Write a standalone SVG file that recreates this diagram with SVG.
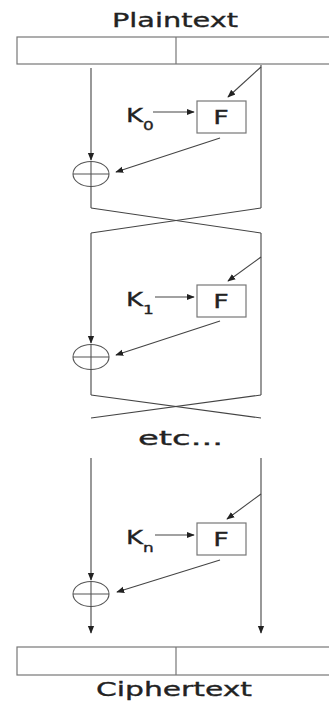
<svg xmlns="http://www.w3.org/2000/svg" width="329" height="703" viewBox="0 0 329 703">
<style>
.ln{stroke:#444;stroke-width:1.1;fill:none}
.bx{stroke:#777;stroke-width:1.2;fill:#fff}
.ar{stroke:#444;stroke-width:1.1;fill:none;marker-end:url(#ah)}
.t{font-family:"DejaVu Sans",Verdana,sans-serif;fill:#222;stroke:#222;stroke-width:0.35;font-size:20px}
.xor{stroke:#555;stroke-width:1.1;fill:none}
</style>
<defs>
<marker id="ah" viewBox="0 0 10 10" refX="9" refY="5" markerWidth="8" markerHeight="8" markerUnits="userSpaceOnUse" orient="auto">
<path d="M0,1 L10,5 L0,9 Z" fill="#222"/>
</marker>
</defs>
<rect width="329" height="703" fill="#fff"/>

<g id="plaintext">
<rect class="bx" x="17" y="37" width="313" height="27"/>
<line class="bx" x1="176" y1="37" x2="176" y2="64"/>
<text class="t" x="112" y="27" textLength="126" lengthAdjust="spacingAndGlyphs">Plaintext</text>
</g>

<g id="ciphertext">
<rect class="bx" x="17" y="647" width="313" height="28"/>
<line class="bx" x1="176" y1="647" x2="176" y2="675"/>
<text class="t" x="96" y="696" textLength="156" lengthAdjust="spacingAndGlyphs">Ciphertext</text>
</g>

<g id="F0">
<rect class="bx" x="197" y="101" width="49" height="32"/>
<text class="t" transform="translate(221,124) scale(1.35,1)" text-anchor="middle" font-size="21">F</text>
</g>
<g id="K0">
<text class="t" transform="translate(126,122) scale(1.3,1)" font-size="21">K<tspan font-size="13" dy="8">0</tspan></text>
</g>
<g id="X0">
<ellipse class="xor" cx="91" cy="174" rx="18" ry="12.5"/>
<line class="xor" x1="73" y1="174" x2="109" y2="174"/>
<line class="xor" x1="91" y1="161.5" x2="91" y2="186.5"/>
</g>

<g id="F1">
<rect class="bx" x="197" y="285" width="49" height="32"/>
<text class="t" transform="translate(221,308) scale(1.35,1)" text-anchor="middle" font-size="21">F</text>
</g>
<g id="K1">
<text class="t" transform="translate(126,306) scale(1.3,1)" font-size="21">K<tspan font-size="13" dy="8">1</tspan></text>
</g>
<g id="X1">
<ellipse class="xor" cx="91" cy="357" rx="18" ry="12.5"/>
<line class="xor" x1="73" y1="357" x2="109" y2="357"/>
<line class="xor" x1="91" y1="344.5" x2="91" y2="369.5"/>
</g>

<g id="etc">
<text class="t" x="138" y="445" textLength="85" lengthAdjust="spacingAndGlyphs">etc...</text>
</g>

<g id="Fn">
<rect class="bx" x="197" y="523" width="49" height="32"/>
<text class="t" transform="translate(221,546) scale(1.35,1)" text-anchor="middle" font-size="21">F</text>
</g>
<g id="Kn">
<text class="t" transform="translate(126,544) scale(1.3,1)" font-size="21">K<tspan font-size="13" dy="8">n</tspan></text>
</g>
<g id="Xn">
<ellipse class="xor" cx="91" cy="594" rx="18" ry="12.5"/>
<line class="xor" x1="73" y1="594" x2="109" y2="594"/>
<line class="xor" x1="91" y1="581.5" x2="91" y2="606.5"/>
</g>

<g id="connectors">
<line class="ar" x1="91" y1="68" x2="91" y2="160"/>
<line class="ln" x1="91" y1="186.5" x2="91" y2="208"/>
<line class="ln" x1="261" y1="65" x2="261" y2="208"/>
<line class="ar" x1="261" y1="67" x2="228" y2="97"/>
<line class="ar" x1="153" y1="112" x2="194" y2="112"/>
<line class="ar" x1="220" y1="138" x2="116" y2="172"/>
<line class="ln" x1="91" y1="208" x2="261" y2="233"/>
<line class="ln" x1="261" y1="208" x2="91" y2="233"/>
<line class="ar" x1="91" y1="233" x2="91" y2="343"/>
<line class="ln" x1="91" y1="369.5" x2="91" y2="395"/>
<line class="ln" x1="261" y1="233" x2="261" y2="395"/>
<line class="ar" x1="261" y1="257" x2="228" y2="281"/>
<line class="ar" x1="155" y1="297" x2="194" y2="297"/>
<line class="ar" x1="220" y1="321" x2="116" y2="355"/>
<line class="ln" x1="91" y1="395" x2="261" y2="418"/>
<line class="ln" x1="261" y1="395" x2="91" y2="418"/>
<line class="ar" x1="91" y1="458" x2="91" y2="580"/>
<line class="ar" x1="91" y1="606.5" x2="91" y2="633"/>
<line class="ar" x1="261" y1="458" x2="261" y2="633"/>
<line class="ar" x1="261" y1="494" x2="227" y2="519"/>
<line class="ar" x1="155" y1="535" x2="194" y2="535"/>
<line class="ar" x1="220" y1="560" x2="117" y2="592"/>
</g>
</svg>
